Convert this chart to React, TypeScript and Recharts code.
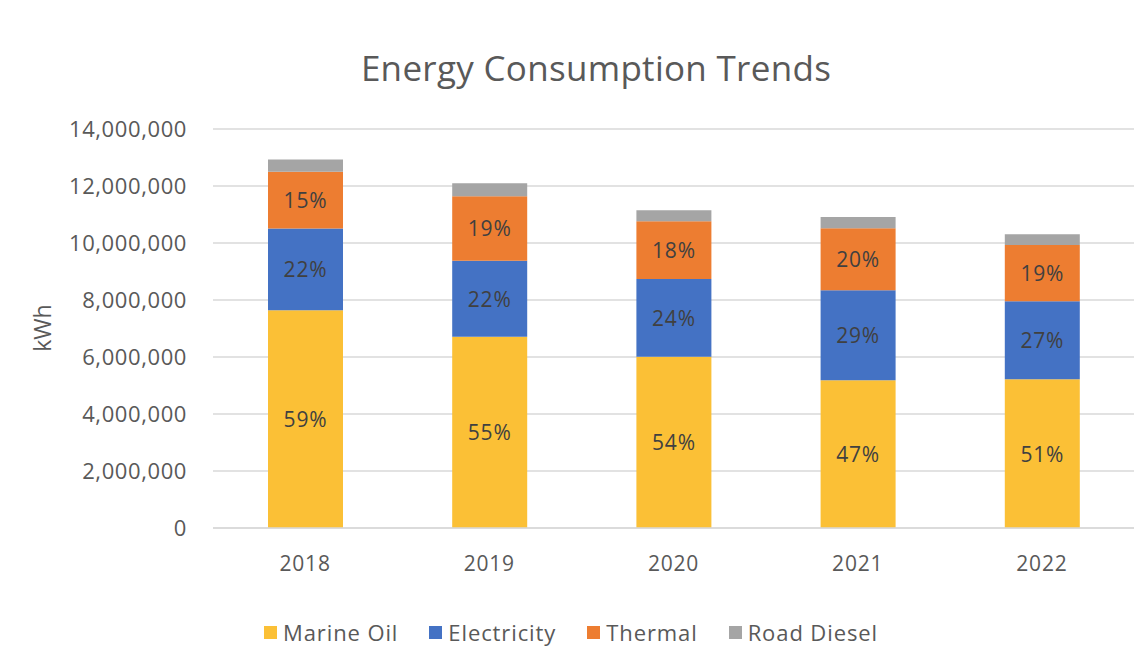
import React from "react";
import {
  BarChart, Bar, XAxis, YAxis, CartesianGrid, LabelList,
} from "recharts";

const years = ["2018", "2019", "2020", "2021", "2022"];
const marineOil = [7640000, 6710000, 6010000, 5180000, 5220000];
const electricity = [2870000, 2670000, 2730000, 3160000, 2740000];
const thermal = [1990000, 2260000, 2020000, 2180000, 1970000];
const roadDiesel = [430000, 460000, 390000, 390000, 380000];
const yTicks = [0, 2000000, 4000000, 6000000, 8000000, 10000000, 12000000, 14000000];

const series = [
  { key: "marine", name: "Marine Oil", color: "#FBC036", values: marineOil, label: true },
  { key: "electricity", name: "Electricity", color: "#4472C4", values: electricity, label: true },
  { key: "thermal", name: "Thermal", color: "#ED7D31", values: thermal, label: true },
  { key: "diesel", name: "Road Diesel", color: "#A5A5A5", values: roadDiesel, label: false },
];

const data = years.map((year, i) => {
  const row: Record<string, number | string> = { year };
  let total = 0;
  series.forEach((s) => {
    row[s.key] = s.values[i];
    total += s.values[i];
  });
  row.total = total;
  return row;
});

const FONT = "'Open Sans', 'Noto Sans', sans-serif";
const TEXT = "#595959";

function PctLabel(props: any) {
  const { x, y, width, height, value, index } = props;
  const total = data[index].total as number;
  const pct = Math.round((value / total) * 100);
  return (
    <text
      x={x + width / 2}
      y={y + height / 2}
      textAnchor="middle"
      dominantBaseline="central"
      fill="#404040"
      fontSize={21}
      letterSpacing={0.8}
      fontFamily={FONT}
    >
      {pct}%
    </text>
  );
}

function ChartLegend() {
  return (
    <div
      style={{
        position: "absolute", top: 617, left: 0, width: 1142, height: 30,
        display: "flex", justifyContent: "center", alignItems: "center", gap: 31,
        fontFamily: FONT, fontSize: 22, letterSpacing: 0.9, color: TEXT,
      }}
    >
      {series.map((s) => (
        <div key={s.key} style={{ display: "flex", alignItems: "center" }}>
          <span style={{ width: 13, height: 13, background: s.color, display: "inline-block", marginRight: 6 }} />
          <span>{s.name}</span>
        </div>
      ))}
    </div>
  );
}

export default function App() {
  return (
    <div style={{ position: "absolute", left: 0, top: 0, width: 1134, height: 666, background: "#fff", overflow: "hidden" }}>
      <div
        style={{
          position: "absolute", top: 44, left: 0, width: 1192, textAlign: "center",
          fontFamily: FONT, fontSize: 35, color: TEXT, letterSpacing: 0.3,
        }}
      >
        Energy Consumption Trends
      </div>
      <div
        style={{
          position: "absolute", left: 42, top: 328, transform: "translate(-50%, -50%) rotate(-90deg)",
          fontFamily: FONT, fontSize: 23, color: TEXT,
        }}
      >
        kWh
      </div>
      <BarChart
        width={1134}
        height={666}
        data={data}
        margin={{ top: 129, right: 0, left: 0, bottom: 0 }}
        barSize={75}
      >
        <CartesianGrid vertical={false} stroke="#D9D9D9" strokeWidth={1.5} />
        <XAxis
          dataKey="year"
          height={138}
          tickLine={false}
          axisLine={{ stroke: "#D9D9D9", strokeWidth: 1.5 }}
          tickMargin={22}
          tick={{ fontSize: 21, fill: TEXT, fontFamily: FONT, letterSpacing: 0.8 }}
        />
        <YAxis
          width={213}
          domain={[0, 14000000]}
          ticks={yTicks}
          interval={0}
          tickLine={false}
          axisLine={false}
          tickSize={0}
          tickMargin={26}
          tickFormatter={(v) => Number(v).toLocaleString("en-US")}
          tick={{ fontSize: 22, fill: TEXT, fontFamily: FONT, letterSpacing: 0.6 }}
        />
        {series.map((s) => (
          <Bar key={s.key} dataKey={s.key} name={s.name} stackId="a" fill={s.color} isAnimationActive={false}>
            {s.label && <LabelList dataKey={s.key} content={<PctLabel />} />}
          </Bar>
        ))}
      </BarChart>
      <ChartLegend />
    </div>
  );
}
